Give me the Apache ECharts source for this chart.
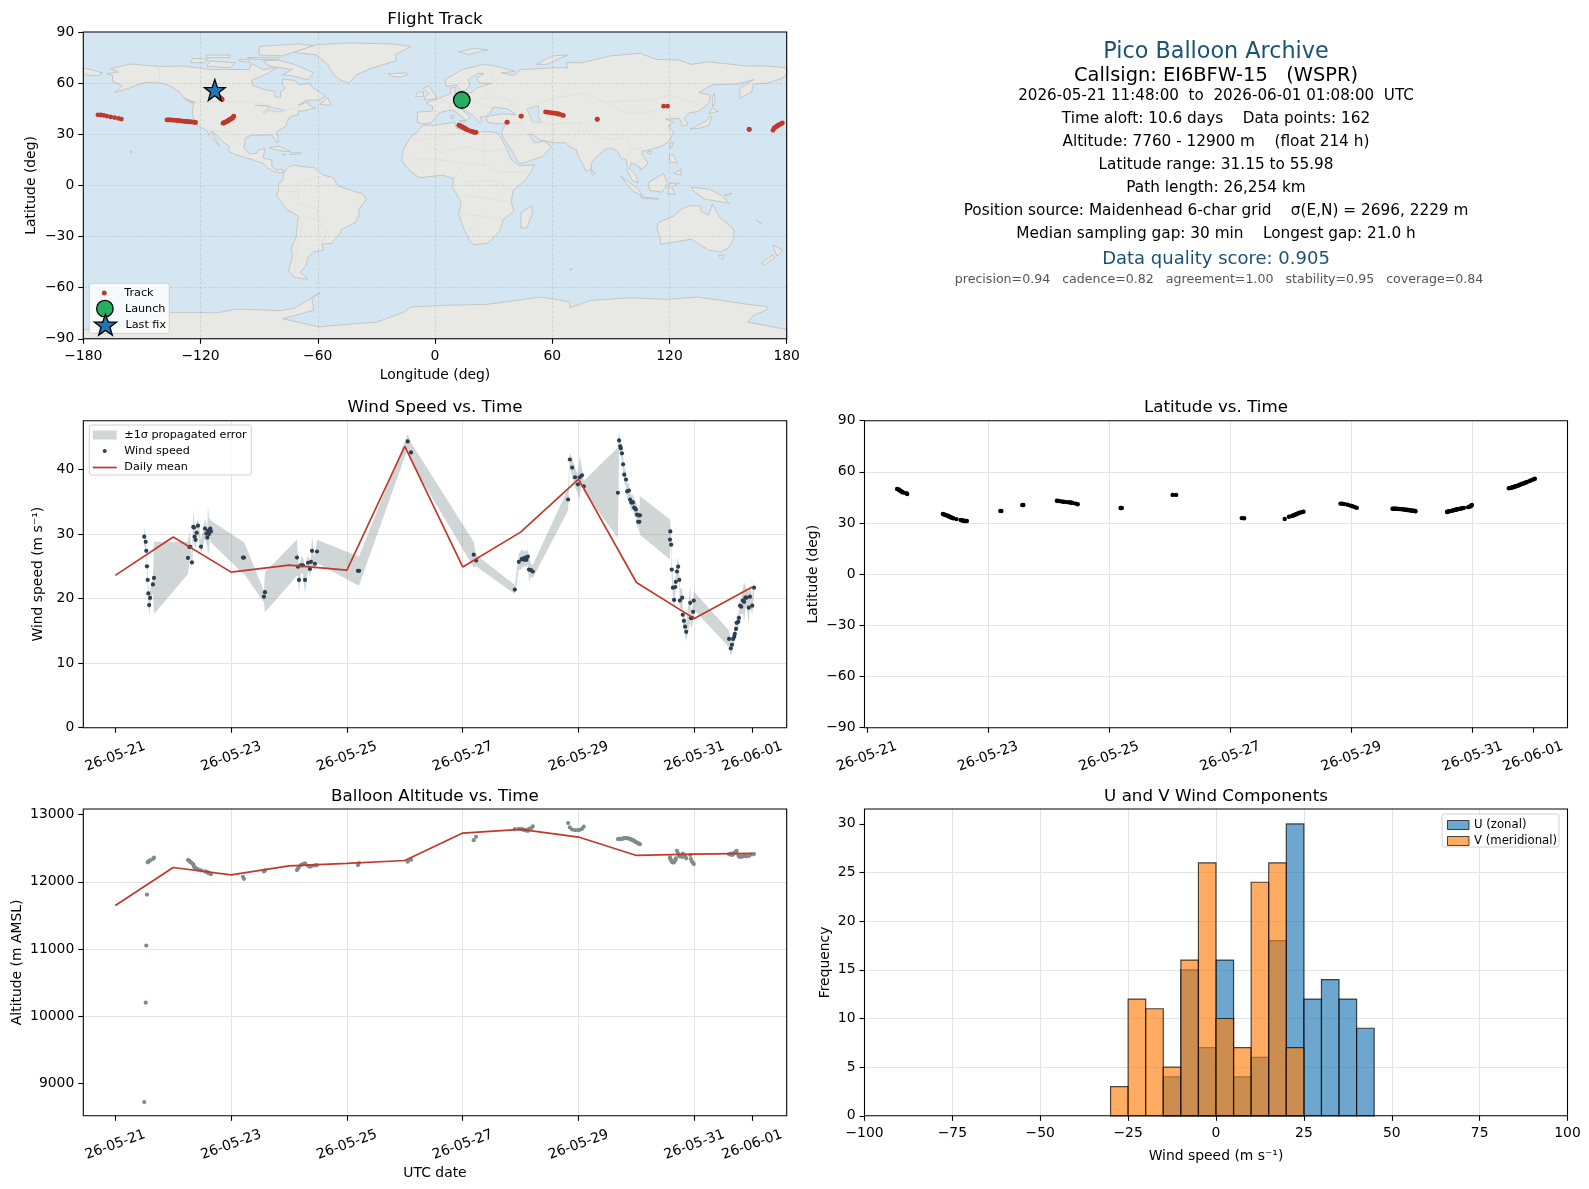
<!DOCTYPE html>
<html>
<head>
<meta charset="utf-8">
<style>html,body{margin:0;padding:0;background:#fff}#c{width:1589px;height:1189px}</style>
<script src="https://cdn.jsdelivr.net/npm/echarts@6/dist/echarts.min.js"></script>
</head>
<body>
<div id="c"></div>
<script>
// ---------- DATA ----------
// days since 2026-05-21 00:00 UTC
const times = [
0.50,0.525,0.535,0.547,0.56,0.57,0.585,0.60,0.65,0.668,
1.255,1.278,1.295,1.324,1.347,1.36,1.37,1.387,1.405,1.428,1.48,1.549,1.572,1.589,1.60,1.618,1.64,1.652,
2.205,2.222, 2.567,2.585,
3.138,3.155,3.172,3.207,3.24,3.276,3.328,3.362,3.38,3.397,3.448,3.483,
4.19,4.21, 5.05,5.107, 6.19,6.23,
6.90,6.97,7.02,7.04,7.06,7.08,7.10,7.125,7.144,7.18,7.21,
7.82,7.85,7.89,7.94,7.99,8.02,8.06,8.09,
8.68,8.70,8.72,8.73,8.75,8.77,8.79,8.82,8.84,8.87,8.89,8.91,8.925,8.94,8.96,8.975,8.99,9.01,9.03,9.04,9.05,9.06,
9.58,9.585,9.60,9.61,9.63,9.65,9.67,9.68,9.70,9.72,9.74,9.75,9.79,9.80,9.82,9.84,9.86,9.93,9.94,9.96,9.98,9.99,
10.60,10.63,10.65,10.67,10.69,10.70,10.72,10.73,10.76,10.77,10.79,10.81,10.84,10.86,10.88,10.90,10.94,10.96,11.0,11.03];
const windSpeed = [
29.6,28.8,27.4,25.0,22.9,20.8,19.0,20.1,22.2,23.2,
26.3,28.0,28.0,25.6,31.1,31.0,29.6,29.1,30.2,31.3,28.05,30.85,30.07,29.45,30.5,30.0,30.85,30.4,
26.35,26.35, 20.3,21,
26.35,24.95,22.9,25.15,25.15,22.9,25.55,24.6,25.7,27.4,25.4,27.3,
24.3,24.3, 44.35,42.65, 26.8,25.9,
21.4,25.7,26.1,26.2,26.0,26.35,26.0,26.5,24.5,24.4,24.2,
35.35,41.55,40.3,38.8,37.7,38.8,39.1,37.4,
36.4,44.5,43.6,43.3,42.5,40.8,39.2,38.45,36.6,36.75,35.35,34.9,34.9,34.9,34.1,34.0,33.8,33,31.9,32.9,31.9,32.9,
29.15,30.4,28.35,24.5,21.7,19.8,21.8,22.6,24.2,24.95,22.9,19.7,20.15,17.5,16.55,15.65,14.85,19.35,17.0,17.0,17.95,19.7,
13.75,12.3,12.85,13.75,14.1,14.55,15.3,16.25,16.4,17,18.9,18.75,19.7,19.5,20.15,20.15,18.6,20.3,18.9,21.7];
const windSigma = [
1.4,1.2,1.2,1.0,1.2,1.5,1.9,1.2,1.2,5.6,
2.5,2.5,1.3,0.8,2.7,1.5,1.5,1.3,1.5,1.2,1.0,1.5,1.5,1.3,4.0,2.5,1.5,1.7,
2.45,2.45, 0.9,3.1,
2.8,1.5,2.1,1.3,1.3,2.1,1.2,1.2,1.0,2.4,1.0,1.8,
2.25,2.25, 1.15,1.5, 2.0,0.9,
0.7,1.2,1.6,1.2,1.2,1.2,1.2,1.2,1.8,1.0,1.0,
1.7,1.1,1.5,1.5,1.5,3.4,1.0,0.8,
7.0,1.3,1.2,1.2,1.2,1.2,1.2,1.2,1.2,1.2,1.2,1.2,1.2,1.2,1.2,1.2,1.2,1.5,1.5,1.5,1.5,3.0,
3.1,1.5,1.5,1.5,1.5,1.7,1.3,1.3,1.5,1.4,1.3,1.8,1.5,1.3,1.3,1.4,1.45,2.85,1.4,1.4,1.2,1.4,
1.3,1.2,1.2,1.0,1.0,1.0,1.0,1.0,1.2,1.2,1.2,1.2,2.0,3.0,2.0,1.2,2.5,1.5,1.5,1.2];
const latitude = [
50.0,49.7,49.4,49.1,48.8,48.5,48.2,47.9,47.5,47.05,
35.3,35,34.7,34.4,34.1,33.9,33.6,33.4,33.1,32.8,32.3,31.8,31.6,31.4,31.3,31.2,31.15,31.15,
37.1,37.05, 40.6,40.6,
43.1,43.0,42.9,42.7,42.5,42.4,42.2,42.0,41.9,41.8,41.4,41.0,
38.8,38.8, 46.5,46.5, 32.9,32.8,
32.35,33.7,34.1,34.4,34.7,35,35.3,35.7,36,36.3,36.6,
41.4,41.3,41.1,40.7,40.2,39.8,39.3,38.9,
38.4,38.4,38.4,38.4,38.35,38.3,38.2,38.15,38.05,37.95,37.85,37.75,37.65,37.6,37.5,37.45,37.35,37.3,37.2,37.15,37.05,36.9,
36.5,36.6,36.7,36.85,37,37.15,37.3,37.45,37.6,37.75,37.9,38.05,38.3,38.45,38.6,38.75,38.9,39.3,39.5,39.7,40.1,40.6,
50.4,50.6,50.8,51,51.2,51.4,51.6,51.8,52,52.3,52.6,52.9,53.2,53.5,53.8,54.1,54.6,55,55.5,55.98];
const longitude = [
13.5,13.7,13.9,14.1,14.3,14.5,14.7,14.9,15.2,15.5,
12.2,12.8,13.2,13.8,14.3,14.6,15,15.4,15.8,16.2,17.2,18.4,19,19.4,19.7,20.2,20.7,21,
36.8,37.0, 44,44.2,
56.6,57.2,58,59,60,61,62,62.8,63.2,63.6,64.8,65.7,
83,83.1, 117,119, 160.7,160.9,
173,173.6,174.2,174.6,175,175.4,175.8,176.2,176.8,177.3,177.8,
-172.5,-171,-169.5,-168,-166,-164,-162,-160.5,
-137.2,-136.5,-135.8,-135.2,-134.5,-133.8,-133,-132.3,-131.6,-130.9,-130.2,-129.5,-128.7,-128,-127.3,-126.6,-125.9,-125.2,-124.5,-123.8,-123.1,-122.5,
-108.5,-108.2,-108,-107.8,-107.5,-107.2,-107,-106.7,-106.5,-106.2,-106,-105.8,-105.5,-105.2,-105,-104.8,-104.6,-104,-103.8,-103.5,-103.2,-103,
-108.9,-109.2,-109.4,-109.6,-109.8,-110,-110.2,-110.4,-110.6,-110.8,-111,-111.2,-111.4,-111.6,-111.8,-112,-112.2,-112.4,-112.6,-112.8];
const altitude = [
8720,10200,11050,11810,12290,12300,12310,12320,12340,12360,
12325,12315,12295,12280,12260,12230,12210,12200,12195,12185,12170,12155,12150,12145,12135,12130,12120,12115,
12075,12045, 12155,12170,
12175,12200,12220,12250,12265,12275,12240,12225,12235,12240,12245,12250,
12250,12280, 12300,12330, 12620,12670,
12785,12790,12785,12780,12775,12770,12765,12760,12790,12800,12826,
12876,12811,12780,12770,12770,12775,12790,12821,
12637,12640,12640,12640,12640,12645,12650,12650,12650,12645,12640,12630,12625,12620,12610,12600,12590,12585,12575,12570,12565,12560,
12363,12340,12320,12300,12288,12290,12320,12350,12463,12420,12390,12380,12370,12420,12400,12380,12350,12400,12340,12300,12280,12264,
12410,12420,12400,12410,12430,12440,12440,12460,12400,12380,12370,12375,12380,12390,12385,12380,12385,12400,12410,12415];

const dailyDays = [0,1,2,3,4,5,6,7,8,9,10,11];
const dailyWind = [23.6,29.55,24.1,25.2,24.4,43.6,24.9,30.3,38.5,22.5,16.9,21.8];
const dailyAlt = [11647,12214,12104,12239,12274,12318,12726,12781,12667,12393,12413,12423];

const launchPoint = [13.7,50.1];
const lastFixPoint = [-112.7,55.98];

const dateTicks = [0,2,4,6,8,10,11];
const dateLabels = ['26-05-21','26-05-23','26-05-25','26-05-27','26-05-29','26-05-31','26-06-01'];
const windTicks = [0,10,20,30,40];
const altTicks = [9000,10000,11000,12000,13000];
const freqTicks = [0,5,10,15,20,25,30];

const histBinLeft = [-30,-25,-20,-15,-10,-5,0,5,10,15,20,25,30,35,40];
const uCounts = [0,0,0,4,15,7,16,4,6,18,30,12,14,12,9];
const vCounts = [3,12,11,5,16,26,10,7,24,26,7,0,0,0,0];

const infoLines = [
 'Pico Balloon Archive','Callsign: EI6BFW-15   (WSPR)',
 '2026-05-21 11:48:00  to  2026-06-01 01:08:00  UTC',
 'Time aloft: 10.6 days    Data points: 162',
 'Altitude: 7760 - 12900 m    (float 214 h)',
 'Latitude range: 31.15 to 55.98',
 'Path length: 26,254 km',
 'Position source: Maidenhead 6-char grid    σ(E,N) = 2696, 2229 m',
 'Median sampling gap: 30 min    Longest gap: 21.0 h',
 'Data quality score: 0.905',
 'precision=0.94   cadence=0.82   agreement=1.00   stability=0.95   coverage=0.84'];

// coarse coastlines, [lon, lat]
const landPolygons = [
 // North America
 [[-168,65.6],[-162,66.5],[-166,68.5],[-156,71.2],[-141,69.8],[-128,70],[-115,68],[-108,68],[-95,68],[-94,71.5],[-88,68],[-81,69],[-85,66],[-94,61.5],[-93,58.5],[-88,56.5],[-82,55],[-82,52],[-79,51.5],[-79,55],[-76.5,57],[-78,59],[-78,62.5],[-72,61.5],[-69,59],[-65,60],[-62,57],[-56,52.5],[-60,50],[-66,50],[-70,47],[-65,49],[-64.5,47],[-61,45.5],[-66,44],[-70,43.5],[-70,41.5],[-74,40.5],[-76,37],[-76,35],[-81,31.5],[-80,25.5],[-81.5,25.5],[-83,29],[-85,29.7],[-90,29.5],[-94,29.5],[-97,28],[-97.7,22],[-95,18.5],[-91,18.7],[-90.5,21],[-87,21.5],[-88,16],[-83.5,15],[-83.5,11],[-81,9],[-79,9.5],[-77,8.5],[-78,7.5],[-80,7.5],[-83,8.5],[-86,10.5],[-88,13],[-92,14.5],[-96,16],[-102,18],[-105.5,20],[-105.5,23],[-109,26],[-113,31],[-114.8,31.5],[-112,26.5],[-110,23],[-112,25],[-115,28.5],[-117,32.5],[-121,34.5],[-124,40],[-124,46],[-123,49],[-128,51],[-131,55],[-135,58],[-140,60],[-148,60.5],[-152,59],[-158,56.5],[-164,54.5],[-160,58.5],[-165,61],[-165,64.5]],
 // South America
 [[-77,8],[-75,11],[-72,12],[-68,11],[-62,10.5],[-57,6],[-52,4.5],[-50,0],[-44,-2.5],[-37,-5],[-35,-8],[-39,-14],[-39,-18],[-41,-22],[-48,-26],[-48.5,-28],[-53,-34],[-58,-34.5],[-57,-38],[-62,-39],[-65,-42],[-66,-47],[-69,-51],[-65,-55],[-72,-54],[-75,-50],[-73,-42],[-73.5,-37],[-71,-30],[-70,-18],[-76,-14],[-81,-6],[-80,-2],[-80,1],[-78,3],[-77.5,7]],
 // Greenland
 [[-60.6,82.5],[-44.5,83.6],[-21.5,83],[-12.3,81.5],[-20,77],[-20,73],[-26,71],[-33,68.5],[-40,65],[-44,60],[-48,61.5],[-52,65],[-55,71],[-60.6,76.5],[-72,78],[-67,80.5]],
 // Canadian Arctic
 [[-80,73.5],[-72,71],[-62,66],[-65,62],[-72,64],[-78,65],[-73,68],[-85,70],[-88,73]],
 [[-117,70],[-105,69],[-102,72],[-115,73]],
 [[-90,76.5],[-78,76],[-62,82],[-70,83],[-90,81.5]],
 [[-125,72],[-118,72],[-116,74],[-124,74.5]],
 [[-96,75],[-80,75],[-80,73.8],[-93,74]],
 [[-117,75],[-105,75],[-105,76.5],[-117,76.5]],
 [[-100,73],[-95,72],[-95,74],[-100,74]],
 [[-59,47.5],[-53,47],[-55,51.5]],
 [[-125,48.5],[-123.5,48.4],[-128,51],[-128,50.5]],
 [[-85,22],[-80,23],[-74,20],[-78,20]],
 [[-74,19],[-69,19.5],[-68.5,18.5],[-74,18]],
 [[-78,18.4],[-76.3,18.2],[-77,17.8]],
 [[-156,20.2],[-155,19.8],[-155.8,19]],
 [[-180,69],[-175,67.5],[-170,66],[-173,64.3],[-180,65]],
 // Africa
 [[-6,35.5],[-1,35.2],[10,37],[11,33.5],[15,32.2],[20,31],[25,31.7],[32,31],[34,27.5],[37,21],[39,15],[43,11.5],[51,12],[47,4],[40,-3],[39,-10],[40.5,-15],[35,-20],[33,-27],[27,-34],[20,-34.8],[18,-33],[15,-26],[12,-17],[13.5,-10],[9,-1],[9.5,4],[4,6],[-4,5],[-8,4.5],[-13,8.5],[-17,14.5],[-16.5,20],[-13,27.5],[-9.5,31]],
 // Eurasia
 [[-9,37],[-9,43],[-1.5,43.5],[-1,46],[-4.5,48.5],[2,51],[8,54],[8,57],[10.5,57.5],[10,54.5],[14,54],[19,54.5],[21,57],[24,58],[29,60],[23,60],[21,63],[25,65.5],[22,65.8],[17,62],[18,59.5],[16,56],[13,55.5],[11,59],[6,58],[5,62],[14,68],[25,71],[31,70],[41,67],[34,66],[40,64.5],[44,68],[54,68.5],[60,69],[68,69],[67,72],[73,72],[75,72],[81,73.5],[90,76],[105,77.5],[113,74],[125,73.5],[131,71],[140,72.5],[160,70],[170,70],[180,69],[180,65],[177,62.5],[170,60],[163,59.5],[162,55],[156,51],[156,57],[163,62],[155,59.5],[142,59],[135,54.5],[141,53],[140,48],[135,43.5],[130,42.5],[127.5,39.5],[129.5,36],[126.5,34.5],[126,37],[125,39.5],[121,39],[118,39],[122,37],[119.5,35],[122,31],[120,26],[116,23],[110,21],[106,20],[106,18],[109,13],[107,10.5],[105,9],[105,10.5],[102,12.5],[100.5,13.5],[99.5,10],[103,5.5],[104,1.5],[101,3],[98.5,8],[98,15],[95,16],[93.5,20],[90,22],[87,21],[82,16],[80,13],[80,10],[77.5,8],[73,18],[72.5,21],[69,22.5],[67,25],[61,25],[57,26],[54,26.5],[50,30],[48,30],[51,25],[56,26],[59.5,22.5],[55,17],[45,13],[43,13],[39,21],[35,28],[34,31],[36,36],[30,36.5],[27,37],[26,40],[29,41],[35,42],[41.5,41.5],[37,45],[33,45.5],[30,46],[28,42],[26,40.7],[23,40],[24,38],[23,36.5],[19.5,41],[13,45.5],[18,40],[16,38],[12,42],[9,44.3],[3,43],[0,39.5],[-2,36.8],[-5.5,36]],
 // Europe & Asia islands
 [[-5.5,50],[1,51],[0,53.5],[-2,56],[-3,58.5],[-6,57],[-3,54],[-5,52]],
 [[-10,52],[-6,52.2],[-6,55],[-9,54.5]],
 [[-24,65.5],[-15,66],[-14,65],[-18,63.5],[-22,64]],
 [[12,78.5],[20,80.3],[27,79.5],[17,76.7]],
 [[52,71],[57,71],[68,76.5],[60,76]],
 [[8.5,39],[9.7,39.5],[9.5,41],[8.3,41]],
 [[12.5,38],[15.5,38.2],[15,36.8]],
 [[130.5,33],[135,33.5],[140,35],[141.5,39],[141,41],[139.5,38.5],[135,35.5]],
 [[140,42],[145,43.5],[142,45.5]],
 [[142,46],[143.5,49],[143,54],[142,52]],
 [[120,22.5],[121,22],[122,25],[121,25.3]],
 [[108.7,19],[110.5,18.3],[110.8,20],[109,20]],
 [[80,9.5],[82,7],[80.5,6]],
 [[44,-16],[49.5,-12],[50,-16],[47,-25],[44,-25]],
 [[95,5.5],[104,-2],[106,-6],[102,-4],[98,1]],
 [[105,-6.5],[114.5,-8],[106,-7.5]],
 [[109,1.5],[117,7],[119,1],[116,-4],[110,-3]],
 [[119,-5],[120,1],[125,1.5],[121,-1],[123,-5]],
 [[131,-1],[141,-2.5],[147,-6],[150.5,-10.5],[143,-9],[138,-8],[133,-4]],
 [[120,18],[122,18],[124,13],[120,14]],
 [[122,7],[126,9.5],[126,6]],
 // Oceania
 [[114,-22],[122,-18],[126,-14],[130,-12],[136,-12],[136,-15],[140,-17.5],[142,-11],[146,-19],[153,-26],[153,-31],[150,-37],[146,-39],[140,-38],[136,-35],[131,-31.5],[124,-33],[115.5,-34.5],[115,-30],[113.5,-25]],
 [[145,-41],[148,-41],[147,-43.5]],
 [[173,-35],[178,-38],[175,-41.5],[174,-39]],
 [[172.5,-41],[174,-42],[169,-46.5],[167,-45.5]],
 [[148,-5.5],[152,-4.5],[150,-6.3]],
 [[165,-21],[167,-22.5],[164.5,-20.5]],
 [[68.8,-49.2],[70.3,-49],[69.7,-49.8]],
 // Antarctica
 [[-180,-84.5],[-165,-84],[-150,-80],[-136,-74.5],[-111,-74.7],[-102,-72.6],[-90,-73],[-79,-73.5],[-72,-72],[-67.5,-69],[-59,-63.2],[-63,-66],[-62,-73.3],[-78,-78.2],[-59.4,-83],[-42,-81.2],[-29.6,-80.2],[-15.8,-74.3],[-12.3,-71.4],[3.7,-70.4],[26.7,-69.8],[54.3,-65.5],[69,-68.4],[69,-71.8],[79.5,-67.5],[100,-65.9],[118.6,-66.9],[134.6,-65.5],[160,-69.8],[170,-71],[170,-73],[163,-76.3],[160,-80.2],[180,-84.5],[180,-90],[-180,-90]]
];
const inlandWater = [
 [[47,45],[53,46.5],[53,41],[54,37],[50,37],[49,40]],
 [[-92,47],[-85,47],[-84.5,45.5],[-88,43],[-87,42],[-85,44],[-83,43.5],[-79,43],[-77,44],[-84,46]]
];
const borderLines = [
 [[-141,69.8],[-141,60]],[[-123,49],[-95,49],[-88,48],[-83,46],[-82.5,42],[-76,44],[-70,46],[-67.5,47]],
 [[-117,32.5],[-106,31.5],[-97,26]],[[-92,14.5],[-89,18],[-88,16]],
 [[-70,-18],[-68,-23],[-71,-40],[-72,-52]],[[-70,-18],[-60,-20],[-55,-27],[-58,-34.5]],[[-80,-3],[-70,-4],[-70,1],[-60,5],[-52,4.5]],[[-70,-4],[-70,-11],[-60,-14],[-60,-20]],
 [[-8,27],[9,30],[25,31.7]],[[-13,27.5],[-5,25],[3,19],[15,23],[25,20],[37,21]],[[25,31.7],[25,12],[33,8],[47,8]],[[-12,15],[3,15],[15,13],[25,12]],[[9.5,4],[15,13]],[[15,2],[30,3],[40,-3]],[[13.5,-6],[30,-8],[39,-10]],[[12,-17],[25,-18],[35,-20]],[[17,-28],[20,-22],[25,-18]],
 [[-1.5,43.5],[3,43]],[[2,51],[8,48],[7,44]],[[8,54],[14,51],[19,49],[23,48],[29,45.5]],[[24,58],[28,56],[24,51],[34,52],[40,49],[37,46]],[[28,70],[30,60]],
 [[47,45],[60,51],[75,54],[87,49],[110,50],[120,53],[135,48],[131,43]],[[87,49],[97,43],[111,43],[120,47]],[[50,37],[61,36],[75,37],[80,30],[88,27],[98,28],[100,21],[106,22]],[[44,37],[46,30]],[[36,36],[44,37]],[[35,28],[46,30]],[[61,25],[61,36]],[[68,24],[74,33],[75,37]],[[98,15],[100,21]],[[102,12.5],[105,15],[108,16]]
];

// ---------- BUILD ----------
const FONT = 'DejaVu Sans';
const RED = '#c0392b';
const tickFs = 13.9;
const G = { map:{left:83.3,top:32,width:703.4,height:306.8},
  wind:{left:83.3,top:420.7,width:703.4,height:307},
  lat:{left:864.5,top:420.7,width:703,height:307},
  alt:{left:83.3,top:809,width:703.4,height:306.8},
  hist:{left:864.5,top:809,width:703,height:306.8} };
const gridOf = (g,bg)=>Object.assign({show:true,backgroundColor:bg||'#fff',borderColor:'#000',borderWidth:0,containLabel:false},g);
const minus = v=>String(v).replace('-','\u2212');
const splitL = {show:true,showMinLine:false,showMaxLine:false,lineStyle:{color:'#e3e3e3',width:1}};
const axLine = {show:false,onZero:false};
const axTick = {show:true,length:5,lineStyle:{color:'#000',width:1.1}};
const lbl = {color:'#000',fontFamily:FONT,fontSize:tickFs,margin:9,hideOverlap:false};
const nameTs = {color:'#000',fontFamily:FONT,fontSize:13.9};

function dateAxis(idx,min,max,name,gap){
  return {type:'value',gridIndex:idx,min,max,name:name||'',nameLocation:'middle',nameGap:gap||30,nameTextStyle:nameTs,
    axisLine:axLine,axisTick:Object.assign({},axTick,{customValues:dateTicks}),splitLine:splitL,
    axisLabel:Object.assign({},lbl,{customValues:dateTicks,rotate:20,align:'center',verticalAlign:'middle',margin:29,formatter:v=>dateLabels[dateTicks.indexOf(v)]||''})};
}
function valAxis(idx,min,max,name,gap,extra){
  return Object.assign({type:'value',gridIndex:idx,min,max,name,nameLocation:'middle',nameGap:gap,nameTextStyle:nameTs,
    axisLine:axLine,axisTick:axTick,splitLine:splitL,axisLabel:Object.assign({},lbl,{formatter:minus})},extra||{});
}
function customTicks(idx,min,max,name,gap,ticks){
  const a = valAxis(idx,min,max,name,gap);
  a.axisTick = Object.assign({},axTick,{customValues:ticks});
  a.axisLabel = Object.assign({},lbl,{customValues:ticks,formatter:v=>String(v)});
  return a;
}
const lblX = Object.assign({},lbl,{margin:10.5,formatter:minus});

const mapSplit = {show:true,showMinLine:false,showMaxLine:false,lineStyle:{color:'rgba(120,120,120,0.22)',width:0.8,type:'dashed'}};
const xAxes = [
  valAxis(0,-180,180,'Longitude (deg)',30,{interval:60,splitLine:mapSplit,z:2,axisLabel:lblX}),
  dateAxis(1,-0.5525,11.595),
  dateAxis(2,-0.038,11.569),
  dateAxis(3,-0.5525,11.595,'UTC date',51),
  valAxis(4,-100,100,'Wind speed (m s\u207B\u00B9)',34,{interval:25,axisLabel:lblX})
];
const yAxes = [
  valAxis(0,-90,90,'Latitude (deg)',45,{interval:30,splitLine:mapSplit,z:2}),
  customTicks(1,0,47.56,'Wind speed (m s\u207B\u00B9)',38,windTicks),
  valAxis(2,-90,90,'Latitude (deg)',44.5,{interval:30}),
  customTicks(3,8515,13085,'Altitude (m AMSL)',59,altTicks),
  customTicks(4,0,31.53,'Frequency',32.5,freqTicks)
];

const polySeries = (name,polys,fill,stroke,lw,z)=>({type:'custom',name,xAxisIndex:0,yAxisIndex:0,silent:true,z,
  data:polys.map((_,i)=>[i]),
  renderItem:(p,api)=>({type:'polygon',shape:{points:polys[p.dataIndex].map(c=>api.coord(c))},style:{fill,stroke,lineWidth:lw}})
});
const BAND = 'rgba(127,140,141,0.37)';
const bandSeries = {type:'custom',name:'\u00B11\u03C3 propagated error',xAxisIndex:1,yAxisIndex:1,silent:true,z:1,
  data:[[0]],
  itemStyle:{color:BAND},
  renderItem:(p,api)=>{
    const up = times.map((t,i)=>api.coord([t,windSpeed[i]+windSigma[i]]));
    const lo = times.map((t,i)=>api.coord([t,windSpeed[i]-windSigma[i]])).reverse();
    return {type:'polygon',shape:{points:up.concat(lo)},style:{fill:BAND}};
  }};
const histSeries = (name,counts,fill,z)=>({type:'custom',name,xAxisIndex:4,yAxisIndex:4,silent:true,z,
  data:histBinLeft.map((b,i)=>[b,counts[i]]).filter(d=>d[1]>0),
  itemStyle:{color:fill,borderColor:'rgba(0,0,0,0.7)',borderWidth:1},
  renderItem:(p,api)=>{
    const a = api.coord([api.value(0),api.value(1)]);
    const b = api.coord([api.value(0)+5,0]);
    return {type:'rect',shape:{x:a[0],y:a[1],width:b[0]-a[0],height:b[1]-a[1]},style:{fill,stroke:'rgba(0,0,0,0.7)',lineWidth:1.2}};
  }});
const starIcon = 'path://M0,-10L2.35,-3.24L9.51,-3.09L3.8,1.24L5.88,8.09L0,4L-5.88,8.09L-3.8,1.24L-9.51,-3.09L-2.35,-3.24Z';

const series = [
  polySeries('Land',landPolygons,'#e8e8e4','#bcbdbd',0.8,1),
  polySeries('Water',inlandWater,'#d4e6f1','#bcbdbd',0.6,1),
  {type:'custom',name:'Borders',xAxisIndex:0,yAxisIndex:0,silent:true,z:1,data:borderLines.map((_,i)=>[i]),
   renderItem:(p,api)=>({type:'polyline',shape:{points:borderLines[p.dataIndex].map(c=>api.coord(c))},style:{fill:'none',stroke:'#dcdcd8',lineWidth:0.7}})},
  {type:'scatter',name:'Track',xAxisIndex:0,yAxisIndex:0,symbolSize:4.8,itemStyle:{color:RED,opacity:1},z:3,
   data:longitude.map((l,i)=>[l,latitude[i]])},
  {type:'scatter',name:'Launch',xAxisIndex:0,yAxisIndex:0,symbolSize:16.5,itemStyle:{color:'#27ae60',opacity:1,borderColor:'#000',borderWidth:1.3},z:4,data:[launchPoint]},
  {type:'scatter',name:'Last fix',xAxisIndex:0,yAxisIndex:0,symbol:starIcon,symbolSize:21,itemStyle:{color:'#1f77b4',opacity:1,borderColor:'#000',borderWidth:1.3},z:5,data:[lastFixPoint]},

  bandSeries,
  {type:'scatter',name:'Wind speed',xAxisIndex:1,yAxisIndex:1,symbolSize:4.2,itemStyle:{color:'#2c3e50',opacity:1},z:3,data:times.map((t,i)=>[t,windSpeed[i]])},
  {type:'line',name:'Daily mean',xAxisIndex:1,yAxisIndex:1,showSymbol:false,symbol:'none',lineStyle:{color:RED,width:1.7},itemStyle:{color:RED},z:4,data:dailyDays.map((d,i)=>[d,dailyWind[i]])},

  {type:'scatter',name:'Latitude',xAxisIndex:2,yAxisIndex:2,symbolSize:4.4,itemStyle:{color:'#000',opacity:1},z:3,data:times.map((t,i)=>[t,latitude[i]])},

  {type:'scatter',name:'Altitude',xAxisIndex:3,yAxisIndex:3,symbolSize:4.2,itemStyle:{color:'#7f8c8d',opacity:1},z:3,data:times.map((t,i)=>[t,altitude[i]])},
  {type:'line',name:'Altitude daily mean',xAxisIndex:3,yAxisIndex:3,showSymbol:false,symbol:'none',lineStyle:{color:RED,width:1.7},itemStyle:{color:RED},z:4,data:dailyDays.map((d,i)=>[d,dailyAlt[i]])},

  histSeries('U (zonal)',uCounts,'rgba(31,119,180,0.65)',2),
  histSeries('V (meridional)',vCounts,'rgba(255,127,14,0.65)',3)
];

// a legend per row: the group is placed by its bounding box, so "left" is the icon's own left edge
const TEXT_H = 12;
const oneLegend = (name,iconLeft,midY,w,h,icon,itemStyle,textPad,fs)=>({show:true,selectedMode:false,orient:'vertical',left:iconLeft,top:midY-Math.max(h,TEXT_H)/2,padding:0,itemWidth:w,itemHeight:h,
  textStyle:{color:'#000',fontFamily:FONT,fontSize:fs||11.2,padding:[0,0,0,textPad||0]},z:6,data:[{name,icon,itemStyle}]});
const legends = [
  oneLegend('Track',101.8,293.5,30,5,'circle',{color:RED,opacity:1}),
  oneLegend('Launch',96,308,30,16.5,'circle',{color:'#27ae60',opacity:1,borderColor:'#000',borderWidth:1.3}),
  oneLegend('Last fix',93.8,324,30,21,starIcon,{color:'#1f77b4',opacity:1,borderColor:'#000',borderWidth:1.3}),
  oneLegend('\u00B11\u03C3 propagated error',92.7,435.5,24,9,'rect',{color:BAND},2.6),
  oneLegend('Wind speed',102.7,451.5,24,4,'circle',{color:'#2c3e50',opacity:1},2.6),
  oneLegend('Daily mean',92.7,468,24,1.7,'rect',{color:RED},2.6),
  oneLegend('U (zonal)',1447,825,21.5,9,'rect',{color:'rgba(31,119,180,0.65)',borderColor:'rgba(0,0,0,0.7)',borderWidth:1},0,11.7),
  oneLegend('V (meridional)',1447,841,21.5,9,'rect',{color:'rgba(255,127,14,0.65)',borderColor:'rgba(0,0,0,0.7)',borderWidth:1},0,11.7)
];
const legendFrame = (x,y,w,h)=>({type:'rect',z:5,silent:true,shape:{x,y,width:w,height:h,r:2.5},style:{fill:'rgba(255,255,255,0.8)',stroke:'#d0d0d0',lineWidth:1}});
const axesFrame = g=>({type:'rect',z:4.5,silent:true,shape:{x:g.left,y:g.top,width:g.width,height:g.height},style:{fill:'none',stroke:'#000',lineWidth:1.1}});

const titleAt = (text,x,y,size,color)=>({text,left:x,top:y,padding:0,textAlign:'center',textVerticalAlign:'middle',
  textStyle:{fontFamily:FONT,fontWeight:'normal',fontSize:size,color}});
const cx = 1216;
const infoX = [cx,cx,cx,cx,cx,cx,cx,cx,cx,cx,cx+3];
const infoY = [52.5,75.5,96.5,119.5,142.5,165.5,188.5,211.5,234.5,259,280];
const infoSize = [22.3,19.4,15.15,15.3,15.3,15.3,15.3,15.3,15.3,18,12.6];
const infoColor = ['#1a5276','#000','#000','#000','#000','#000','#000','#000','#000','#1a5276','#555'];
const titles = [
  titleAt('Flight Track',435,20,16.7,'#000'),
  titleAt('Wind Speed vs. Time',435,408,16.7,'#000'),
  titleAt('Latitude vs. Time',1216,408,16.7,'#000'),
  titleAt('Balloon Altitude vs. Time',435,797,16.7,'#000'),
  titleAt('U and V Wind Components',1216,797,16.7,'#000')
].concat(infoLines.map((t,i)=>titleAt(t,infoX[i],infoY[i],infoSize[i],infoColor[i])));

const chart = echarts.init(document.getElementById('c'),null,{renderer:'canvas',width:1589,height:1189});
chart.setOption({
  animation:false,backgroundColor:'#fff',textStyle:{fontFamily:FONT},
  title:titles,
  grid:[gridOf(G.map,'#d4e6f1'),gridOf(G.wind),gridOf(G.lat),gridOf(G.alt),gridOf(G.hist)],
  xAxis:xAxes,yAxis:yAxes,series,legend:legends,
  graphic:{elements:[axesFrame(G.map),axesFrame(G.wind),axesFrame(G.lat),axesFrame(G.alt),axesFrame(G.hist),
    legendFrame(89.3,283.3,80,50),legendFrame(89.3,425,162,50),legendFrame(1442,814,117,33)]}
});
</script>
</body>
</html>
